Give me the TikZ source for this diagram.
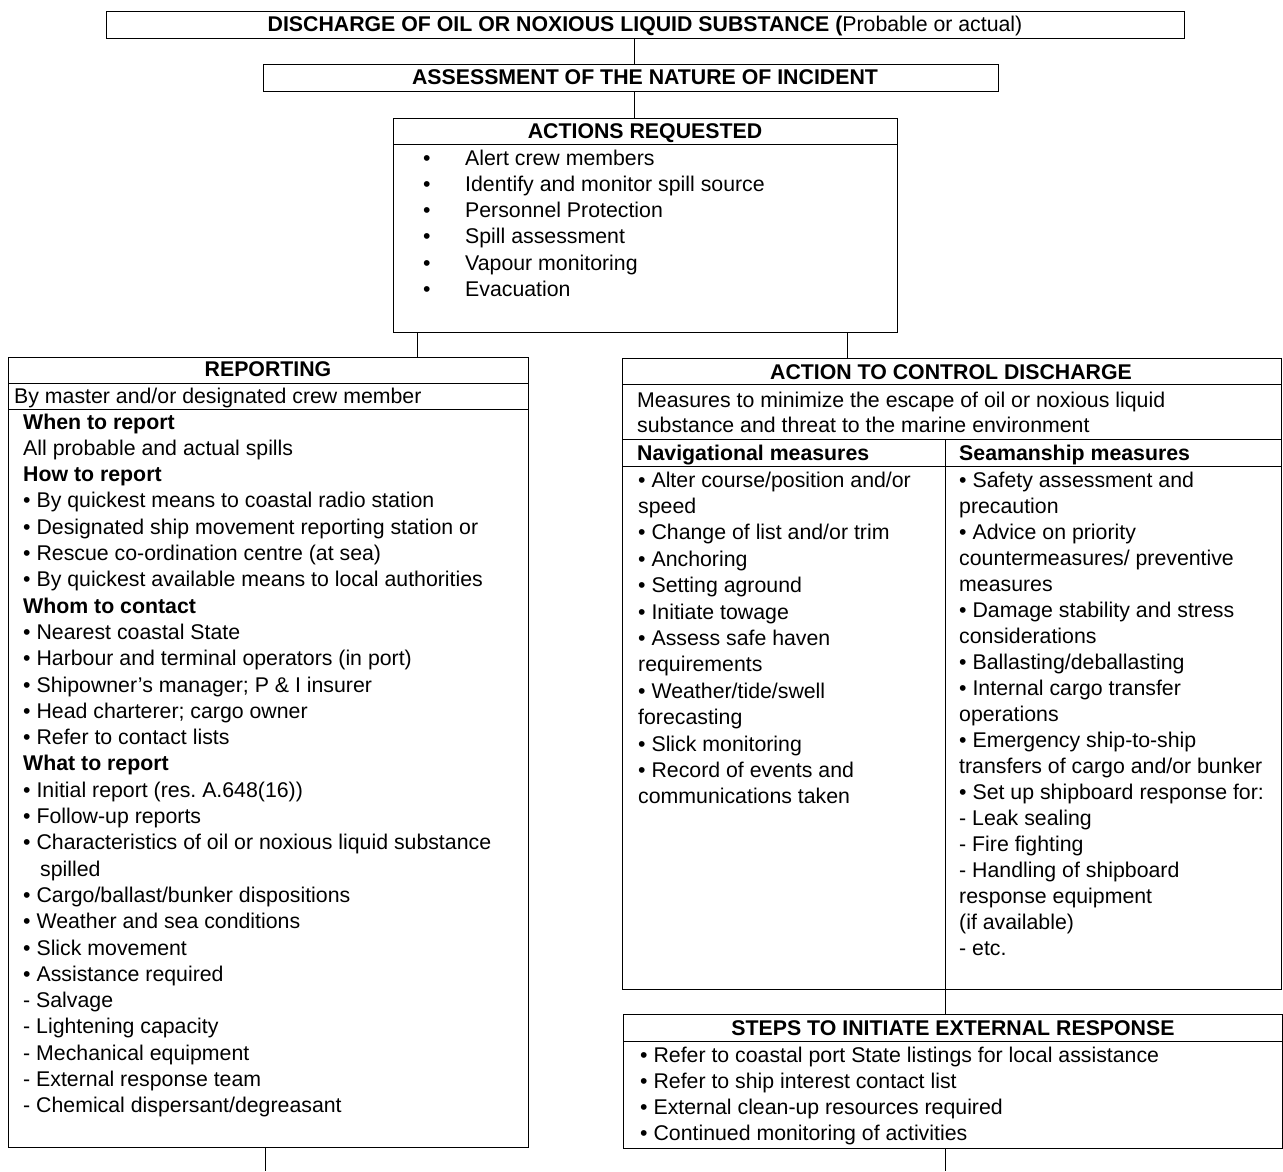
\documentclass[tikz,border=0pt]{standalone}
\usepackage{fontspec}
\setmainfont{Liberation Sans}
\usetikzlibrary{calc}
\frenchspacing
\begin{document}
\begin{tikzpicture}[x=1pt,y=-1pt,
  box/.style={draw=black, line width=0.9pt, anchor=north west, inner sep=0pt, outer sep=0pt},
  sepline/.style={draw=black, line width=0.9pt},
  link/.style={draw=black, line width=0.9pt},
  txt/.style={anchor=base west, inner sep=0pt, font=\fontsize{21.3pt}{25pt}\selectfont},
  ttl/.style={anchor=base, inner sep=0pt, font=\fontsize{21.3pt}{25pt}\selectfont\bfseries}]
\useasboundingbox (0,0) rectangle (1283,1171);

% boxes
\node[box, minimum width=1078pt, minimum height=27pt] (b1) at (106,11) {};
\node[box, minimum width=735pt, minimum height=27pt] (b2) at (263,64) {};
\node[box, minimum width=504pt, minimum height=214pt] (b3) at (393,118) {};
\node[box, minimum width=520pt, minimum height=790pt] (rep) at (8,357) {};
\node[box, minimum width=659pt, minimum height=631pt] (acd) at (622,358) {};
\node[box, minimum width=659pt, minimum height=134pt] (ext) at (623,1014) {};

% separators
\draw[sepline] ($(b3.north west)+(0,26)$) -- ($(b3.north east)+(0,26)$);
\draw[sepline] ($(rep.north west)+(0,26)$) -- ($(rep.north east)+(0,26)$);
\draw[sepline] ($(rep.north west)+(0,52)$) -- ($(rep.north east)+(0,52)$);
\draw[sepline] ($(acd.north west)+(0,26)$) -- ($(acd.north east)+(0,26)$);
\coordinate (acdsep) at ($(acd.north west)+(0,81)$);
\draw[sepline] (acdsep) -- ($(acd.north east)+(0,81)$);
\draw[sepline] ($(acd.north west)+(0,108)$) -- ($(acd.north east)+(0,108)$);
\draw[sepline] ($(ext.north west)+(0,27)$) -- ($(ext.north east)+(0,27)$);
\coordinate (colx) at (945,0);
\draw[sepline] (colx |- acdsep) -- (colx |- acd.south);

% connectors
\coordinate (cx1) at (634,0);
\coordinate (cx2) at (417,0);
\coordinate (cx3) at (847,0);
\coordinate (endL) at (265,1171);
\coordinate (endR) at (945,1171);
\draw[link] (cx1 |- b1.south) -- (cx1 |- b2.north);
\draw[link] (cx1 |- b2.south) -- (cx1 |- b3.north);
\draw[link] (cx2 |- b3.south) -- (cx2 |- rep.north);
\draw[link] (cx3 |- b3.south) -- (cx3 |- acd.north);
\draw[link] (colx |- acd.south) -- (colx |- ext.north);
\draw[link] (endL |- rep.south) -- (endL);
\draw[link] (endR |- ext.south) -- (endR);

% titles
\node[ttl] (t1) at (645,31) {DISCHARGE OF OIL OR NOXIOUS LIQUID SUBSTANCE (\mdseries Probable or actual)};
\node[ttl] (t2) at (645,84) {ASSESSMENT OF THE NATURE OF INCIDENT};
\node[ttl] (t3) at (645,138) {ACTIONS REQUESTED};
\node[ttl] (t4) at (268,376) {REPORTING};
\node[ttl] (t5) at (951,379) {ACTION TO CONTROL DISCHARGE};
\node[ttl] (t6) at (953,1035) {STEPS TO INITIATE EXTERNAL RESPONSE};

% actions requested
\foreach \t [count=\i from 0] in {Alert crew members, Identify and monitor spill source, Personnel Protection, Spill assessment, Vapour monitoring, Evacuation}
  \node[txt] (ar\i) at (423,{165+\i*26.3}) {\makebox[42pt][l]{•}\t};

% reporting
\node[txt] (rby) at (14,403) {By master and/or designated crew member};
\foreach \t [count=\i from 0] in {
  {\textbf{When to report}},
  All probable and actual spills,
  {\textbf{How to report}},
  • By quickest means to coastal radio station,
  • Designated ship movement reporting station or,
  • Rescue co-ordination centre (at sea),
  • By quickest available means to local authorities,
  {\textbf{Whom to contact}},
  • Nearest coastal State,
  • Harbour and terminal operators (in port),
  • Shipowner's manager; P \& I insurer,
  • Head charterer; cargo owner,
  • Refer to contact lists,
  {\textbf{What to report}},
  • Initial report (res. A.648(16)),
  • Follow-up reports,
  • Characteristics of oil or noxious liquid substance,
  {\hspace*{17pt}spilled},
  • Cargo/ballast/bunker dispositions,
  • Weather and sea conditions,
  • Slick movement,
  • Assistance required,
  - Salvage,
  - Lightening capacity,
  - Mechanical equipment,
  - External response team,
  - Chemical dispersant/degreasant}
  \node[txt] (rp\i) at (23,{429+\i*26.3}) {\t};

% action to control discharge
\node[txt] (am1) at (637,407) {Measures to minimize the escape of oil or noxious liquid};
\node[txt] (am2) at (637,432) {substance and threat to the marine environment};
\node[txt] (nh) at (637,460) {\bfseries Navigational measures};
\node[txt] (sh) at (959,460) {\bfseries Seamanship measures};
\foreach \t [count=\i from 0] in {
  • Alter course/position and/or, speed, • Change of list and/or trim,
  • Anchoring, • Setting aground, • Initiate towage, • Assess safe haven,
  requirements, • Weather/tide/swell, forecasting, • Slick monitoring,
  • Record of events and, communications taken}
  \node[txt] (nv\i) at (638,{487+\i*26.4}) {\t};
\foreach \t [count=\i from 0] in {
  • Safety assessment and, precaution, • Advice on priority,
  countermeasures/ preventive, measures, • Damage stability and stress,
  considerations, • Ballasting/deballasting, • Internal cargo transfer,
  operations, • Emergency ship-to-ship, transfers of cargo and/or bunker,
  • Set up shipboard response for:, - Leak sealing, - Fire fighting,
  - Handling of shipboard, response equipment, (if available), - etc.}
  \node[txt] (sm\i) at (959,{487+\i*26.05}) {\t};

% steps
\foreach \t [count=\i from 0] in {
  • Refer to coastal port State listings for local assistance,
  • Refer to ship interest contact list,
  • External clean-up resources required,
  • Continued monitoring of activities}
  \node[txt] (ex\i) at (640,{1062+\i*26.3}) {\t};
\end{tikzpicture}
\end{document}
